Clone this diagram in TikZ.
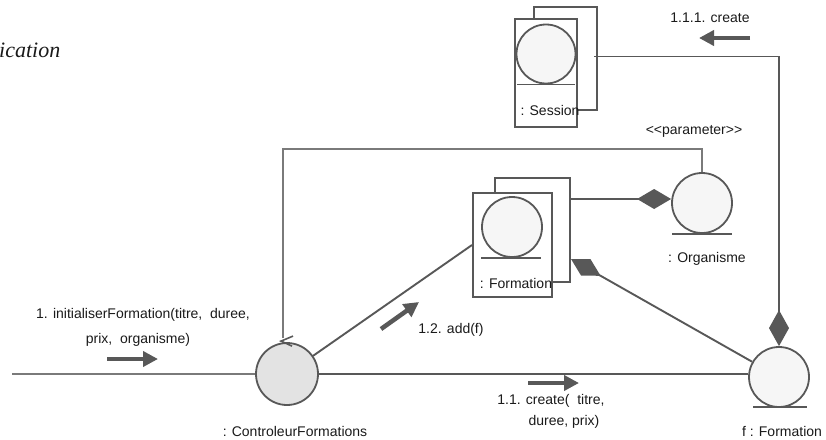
\documentclass[tikz,border=0pt]{standalone}
\usepackage{fontspec}
\setmainfont{Liberation Sans}
\newfontfamily\serifit{Liberation Serif}
\usetikzlibrary{arrows.meta,calc}
\definecolor{lc}{HTML}{585858}
\definecolor{lc2}{HTML}{7A7A7A}
\definecolor{cfill}{HTML}{F6F6F6}
\definecolor{ctrlfill}{HTML}{E3E3E3}
\definecolor{txt}{HTML}{1A1A1A}
\begin{document}
\begin{tikzpicture}[x=1pt,y=-1pt,
  font=\fontsize{14}{16}\selectfont,
  obj/.style={circle, draw=lc, line width=1.8pt, fill=cfill, minimum size=60pt, inner sep=0pt},
  box/.style={rectangle, draw=lc, line width=2pt, fill=white, inner sep=0pt},
  conn/.style={draw=lc, line width=1.9pt},
  msg/.style={draw=lc, line width=4.5pt, -{Triangle[length=15pt,width=15pt]}},
  lbl/.style={inner sep=0pt, text=txt},
  under/.style={draw=lc, line width=1.8pt}]
\useasboundingbox (0,0) rectangle (826,439);

% cropped heading
\node[lbl, anchor=west, font=\serifit\itshape\fontsize{22}{24}\selectfont] (head) at (-1,50) {ication};

% ---- Session multi-object
\node[box, minimum width=63pt, minimum height=103pt] (sessBack) at (565.5,58.5) {};
\node[box, minimum width=62pt, minimum height=108pt] (sessFront) at (546,73) {};
\node[obj, minimum size=59pt] (sessC) at (546,54) {};
\draw[under] ($(sessC.south)+(-29,0)$) -- ($(sessC.south)+(29,0)$);
\node[lbl] (sessL) at (550,110) {: Session};

% ---- Formation multi-object
\node[box, minimum width=75pt, minimum height=104pt] (formBack) at (532.5,230) {};
\node[box, minimum width=79pt, minimum height=104pt] (formFront) at (512.5,245) {};
\node[obj, minimum size=60pt] (formC) at (512,227) {};
\draw[under] ($(formC.south)+(-31,0)$) -- ($(formC.south)+(29,0)$);
\node[lbl] (formL) at (516,283) {: Formation};

% ---- Organisme
\node[obj, minimum size=60pt] (org) at (702,203) {};
\draw[under] ($(org.south)+(-30,0)$) -- ($(org.south)+(30,0)$);
\node[lbl] (orgL) at (707,259) {: Organisme};

% ---- f : Formation
\node[obj, minimum size=60pt] (f) at (779,377) {};
\draw[under] ($(f.south)+(-26,-1)$) -- ($(f.south)+(28,-1)$);
\node[lbl] (fL) at (782,431) {f : Formation};

% ---- Controleur
\coordinate (inp) at (12,374);
\draw[conn, draw=lc2] (inp) -- (257,374);
\node[obj, fill=ctrlfill, minimum size=62pt] (ctrl) at (287,374) {};
\draw[draw=lc, line width=1.6pt] ($(ctrl.north)+(6,-6)$) -- ($(ctrl.north)+(-6,-1)$) -- ($(ctrl.north)+(5,4)$);
\node[lbl] (ctrlL) at (295,431) {: ControleurFormations};

% ---- connectors
\draw[conn, draw=lc2] ($(ctrl.north)+(-4,-4)$) -- ++(0,-189) -| (org.north);
\draw[conn] (ctrl.east) -- (ctrl.east -| f.west);
\draw[conn] (ctrl) -- (formFront.west);
\draw[conn, -{Diamond[length=34pt,width=20pt]}] (formBack.east |- org.west) ++(0,-4) -- ($(org.west)+(0,-4)$);
\draw[conn, {Diamond[length=34pt,width=19pt]}-] ($(formBack.south east)+(0,-24)$) -- (f);
\draw[conn] ($(sessBack.east)+(-4,-2)$) -| ($(f.north)+(0,-35)$);
\draw[conn, -{Diamond[length=36pt,width=20pt]}] ($(f.north)+(0,-36)$) -- (f.north);

% ---- messages
\node[lbl] (m1a) at (143,315) {1. initialiserFormation(titre,\ \ duree,};
\node[lbl] (m1b) at (138,340) {prix,\ \ organisme)};
\draw[msg] (107,359) -- (158,359);

\node[lbl] (m12) at (451,330) {1.2. add(f)};
\draw[msg] (381,329) -- (419,302);

\node[lbl] (m11a) at (551,401) {1.1. create(\ \ titre,};
\node[lbl] (m11b) at (564,422) {duree, prix)};
\draw[msg] (528,383) -- (579,383);

\node[lbl] (m111) at (710,18) {1.1.1. create};
\draw[msg] (750,38) -- (699,38);

\node[lbl] (param) at (694,131) {{<}{<}parameter{>}{>}};
\end{tikzpicture}
\end{document}
